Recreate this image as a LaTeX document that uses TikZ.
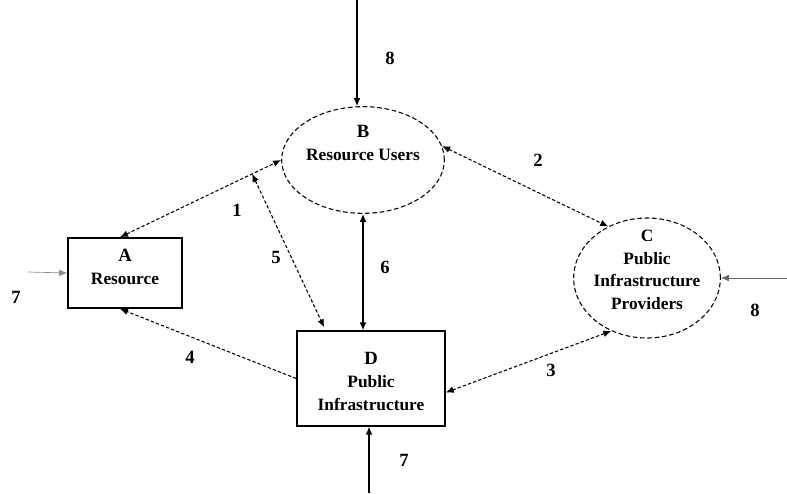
\documentclass[tikz,border=0pt]{standalone}
\usepackage{fontspec}
\setmainfont{Liberation Serif}
\usetikzlibrary{shapes.geometric,arrows.meta,calc}
\tikzset{
  shapeline/.style={draw=black, line width=0.8pt, dash pattern=on 3.5pt off 2pt},
  boxnode/.style={draw=black, line width=1.2pt, rectangle},
  conn/.style={line width=0.8pt, dash pattern=on 2.5pt off 1.6pt},
  solidconn/.style={line width=0.9pt},
  tip/.style={-{Latex[length=6pt,width=5pt]}},
  bitip/.style={{Latex[length=6pt,width=5pt]}-{Latex[length=6pt,width=5pt]}},
  numlbl/.style={font=\fontsize{14}{16}\selectfont\bfseries},
  txt/.style={font=\fontsize{13}{17}\selectfont\bfseries, align=center, inner sep=0pt},
}
\begin{document}
\begin{tikzpicture}[x=0.75pt,y=-0.75pt]
\useasboundingbox[fill=white] (0,0) rectangle (787,493);
% shapes
\node[ellipse, shapeline, minimum width=122pt, minimum height=80pt] (B) at (363,160) {};
\node[ellipse, shapeline, minimum width=110pt, minimum height=90pt] (C) at (647,278) {};
\node[boxnode, minimum width=85.5pt, minimum height=52.5pt] (A) at (125,273) {};
\node[boxnode, minimum width=111pt, minimum height=71pt] (D) at (371,378.5) {};
% texts
\node[txt] (Bt) at ($(B.center)+(0,-17)$) {{\fontsize{14}{17}\selectfont B}\\Resource Users};
\node[txt] (Ct) at ($(C.center)+(0,-8)$) {{\fontsize{13}{17}\selectfont C}\\Public\\Infrastructure\\Providers};
\node[txt] (At) at ($(A.center)+(0,-6)$) {{\fontsize{14}{17}\selectfont A}\\Resource};
\node[txt] (Dt) at ($(D.center)+(0,3)$) {{\fontsize{14}{17}\selectfont D}\\Public\\Infrastructure};
% external inputs
\coordinate (top8) at (357,0);
\coordinate (left7) at (28,272);
\coordinate (right8) at (787,278);
\coordinate (bot7) at (369,493);
\draw[solidconn, tip] (top8) -- (top8 |- B.north);
\draw[line width=0.5pt, draw=black!45, tip] (left7) -- (A.west);
\draw[line width=0.6pt, draw=black!60, tip] (right8) -- (C.east);
\draw[solidconn, tip] (bot7) -- (bot7 |- D.south);
% connectors
\coordinate (A1) at ($(A.north)+(-5,0)$);
\coordinate (B1) at (B.west);
\draw[conn, bitip] (A1) -- (B1);
\path (A1) -- (B1) coordinate[pos=0.82] (p5);
\draw[conn, bitip] (p5) -- ($(D.north west)+(28,-3)$);
\draw[solidconn, bitip] (B.south) -- (B.south |- D.north);
\draw[conn, bitip] (B.10) -- (C.127);
\draw[conn, bitip] (C.236) -- ($(D.east)+(0,14)$);
\draw[conn, tip] (D.west) -- ($(A.south)+(-5,0)$);
% labels
\node[numlbl] (n8a) at (390,58) {8};
\node[numlbl] (n7a) at (16,297) {7};
\node[numlbl] (n8b) at (755,310) {8};
\node[numlbl] (n7b) at (404,460) {7};
\node[numlbl] (n1) at (237,210) {1};
\node[numlbl] (n5) at (276,257) {5};
\node[numlbl] (n6) at (385,267) {6};
\node[numlbl] (n2) at (538,160) {2};
\node[numlbl] (n3) at (551,370) {3};
\node[numlbl] (n4) at (190,357) {4};
\end{tikzpicture}
\end{document}
